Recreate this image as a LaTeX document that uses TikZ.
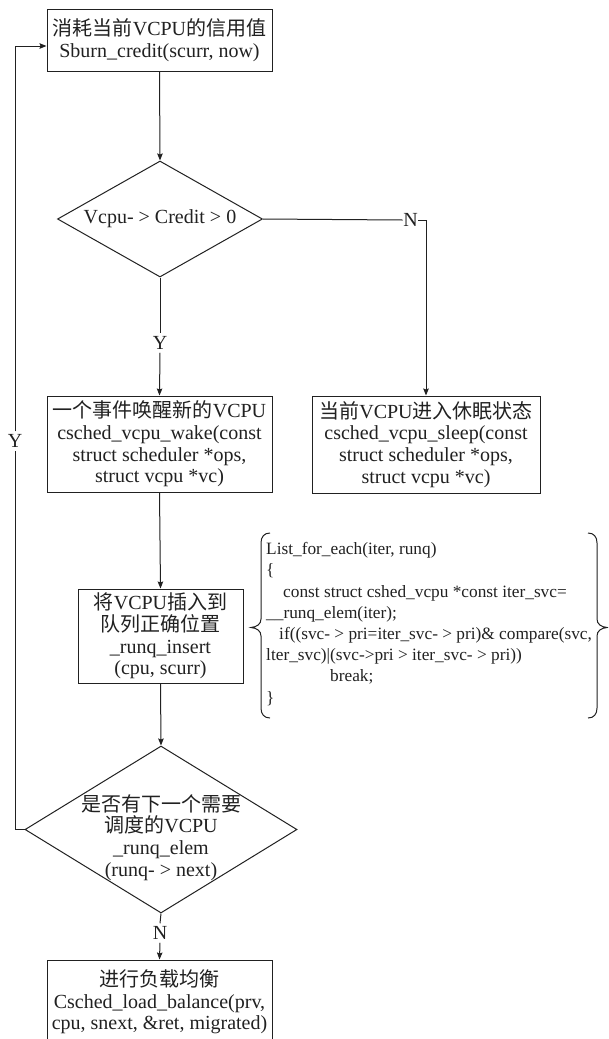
\documentclass[tikz,border=0pt]{standalone}
\usepackage{fontspec}
\setmainfont{Liberation Serif}
\newfontfamily\cjk{Noto Sans CJK SC}
\newcommand{\zh}[1]{{\cjk #1}}
\usetikzlibrary{arrows.meta,shapes.geometric}
\definecolor{linecol}{gray}{0.13}
\definecolor{txtcol}{gray}{0.13}
\begin{document}
\begin{tikzpicture}[x=1pt,y=-1pt,
  box/.style={draw=linecol, line width=1pt, align=center, inner sep=0pt,
    font=\fontsize{20}{21.7}\selectfont, text=txtcol},
  dia/.style={diamond, draw=linecol, line width=1pt, inner sep=0pt},
  lab/.style={font=\fontsize{20}{21.7}\selectfont, text=txtcol, inner xsep=0.5pt, inner ysep=3pt},
  ln/.style={draw=linecol, line width=1pt},
  arr/.style={draw=linecol, line width=1pt, -{Stealth[length=7pt,width=5.5pt,inset=1pt]}},
  code/.style={anchor=west, align=left, inner sep=0pt, text=txtcol,
    font=\fontsize{17.3}{21.2}\selectfont}]
\useasboundingbox (0,0) rectangle (608,1039);
\clip (0,0) rectangle (608,1039);
\fill[white] (0,0) rectangle (608,1039);

% nodes
\node[box, minimum width=225pt, minimum height=62pt] (b1) at (159.5,40)
  {\zh{消耗当前}VCPU\zh{的信用值}\\Sburn\_credit(scurr, now)};

\node[dia, minimum width=205pt, minimum height=116pt] (d1) at (160,219) {};
\node[lab] (t1) at (160,219) {Vcpu- > Credit > 0};

\node[lab] (n1) at (410.5,220) {N};
\node[lab] (y1) at (160,343) {Y};

\node[box, minimum width=225pt, minimum height=96pt] (wake) at (159.5,444)
  {\zh{一个事件唤醒新的}VCPU\\csched\_vcpu\_wake(const\\struct scheduler *ops,\\struct vcpu *vc)};
\node[box, minimum width=228pt, minimum height=97pt] (sleep) at (426,444.5)
  {\zh{当前}VCPU\zh{进入休眠状态}\\csched\_vcpu\_sleep(const\\struct scheduler *ops,\\struct vcpu *vc)};

\node[box, minimum width=165pt, minimum height=94pt] (ins) at (160.5,636)
  {\zh{将}VCPU\zh{插入到}\\\zh{队列正确位置}\\\_runq\_insert\\(cpu, scurr)};

\node[code] (code) at (266,624)
  {List\_for\_each(iter, runq)\\
   \{\\
   \hspace*{17pt}const struct cshed\_vcpu *const iter\_svc=\\
   \_\_runq\_elem(iter);\\
   \hspace*{13pt}if((svc- > pri=iter\_svc- > pri)\& compare(svc,\\
   lter\_svc)|(svc->pri > iter\_svc- > pri))\\
   \hspace*{64pt}break;\\
   \}};

\node[dia, minimum width=272pt, minimum height=167pt] (d2) at (161,829.5) {};
\node[lab, align=center] (t2) at (161,837.5)
  {\zh{是否有下一个需要}\\\zh{调度的}VCPU\\\_runq\_elem\\(runq- > next)};

\node[lab] (n2) at (160,933) {N};
\node[lab] (y2) at (15,441) {Y};

\node[box, minimum width=225pt, minimum height=84pt] (bal) at (159.5,1002)
  {\zh{进行负载均衡}\\Csched\_load\_balance(prv,\\cpu, snext, \&ret, migrated)};

% braces
\draw[ln] (270,533) .. controls (264,533) and (261,537) .. (261,543)
  -- (261,619) .. controls (261,624) and (257,627) .. (251,627.5)
  .. controls (257,628) and (261,631) .. (261,636)
  -- (261,708) .. controls (261,714) and (264,718) .. (270,718);
\draw[ln] (588,533) .. controls (594,533) and (597,537) .. (597,543)
  -- (597,619) .. controls (597,624) and (601,627) .. (607,627.5)
  .. controls (601,628) and (597,631) .. (597,636)
  -- (597,708) .. controls (597,714) and (594,718) .. (588,718);

% connectors
\draw[arr] (b1.south) -- (d1.north);
\draw[ln] (d1.east) -- (n1.west);
\draw[arr] (n1.east) -| (sleep.north);
\draw[ln] (d1.south) -- (y1.north);
\draw[arr] (y1.south) -- (wake.north);
\draw[arr] (wake.south) -- (ins.north);
\draw[arr] (ins.south) -- (d2.north);
\coordinate (lc) at (15,829.5);
\draw[ln] (d2.west) -- (lc) -- (y2.south);
\draw[arr] (y2.north) |- ([yshift=-6pt]b1.west);
\draw[ln] (d2.south) -- (n2.north);
\draw[arr] (n2.south) -- (bal.north);
\end{tikzpicture}
\end{document}
